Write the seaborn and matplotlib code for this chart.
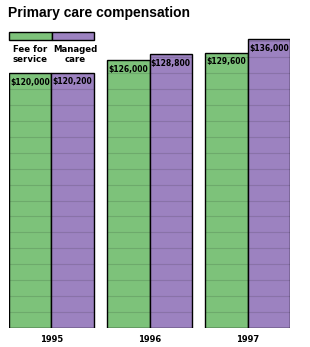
import numpy as np
import pandas as pd
import matplotlib.pyplot as plt
import seaborn as sns
from matplotlib.patches import Rectangle

years = ["1995", "1996", "1997"]
fee_for_service = [120000, 126000, 129600]
managed_care = [120200, 128800, 136000]
series_names = ["Fee for\nservice", "Managed\ncare"]
colors = ["#7dc27a", "#9c82c0"]

df = pd.DataFrame({
    "year": years * 2,
    "type": [series_names[0]] * 3 + [series_names[1]] * 3,
    "value": fee_for_service + managed_care,
})

sns.set_style("white")
plt.rcParams["font.family"] = ["DejaVu Sans"]
plt.rcParams["font.weight"] = "bold"
plt.rcParams["text.color"] = "black"
plt.rcParams["xtick.color"] = "black"

W, H = 310, 347
fig = plt.figure(figsize=(W / 100, H / 100), dpi=100)
ax = fig.add_axes([9 / W, 1 - 328 / H, (290 - 9) / W, (328 - 30.5) / H])

sns.barplot(data=df, x="year", y="value", hue="type", palette=colors,
            width=0.867, gap=0, edgecolor="black", linewidth=1,
            saturation=1, legend=False, ax=ax)

ax.set_xlim(-0.4335, 2.4335)
ax.set_ylim(0, 140000)

# faint lines running across each bar
for p in ax.patches:
    x0 = p.get_x()
    x1 = x0 + p.get_width()
    h = p.get_height()
    for yv in np.arange(7500, h, 7500):
        ax.plot([x0, x1], [yv, yv], color="black", alpha=0.12, lw=0.8, zorder=3)

# value labels inside the top of each bar
for p in ax.patches:
    h = p.get_height()
    if h <= 0:
        continue
    ax.annotate(f"${h:,.0f}", (p.get_x() + p.get_width() / 2, h),
                xytext=(0, -3.5), textcoords="offset points", color="black",
                ha="center", va="top", fontsize=5.5, fontweight="bold", zorder=4)

ax.set_xlabel("")
ax.set_ylabel("")
ax.set_yticks([])
ax.tick_params(axis="x", length=0, pad=5, labelsize=6.0, labelcolor="black")
for lbl in ax.get_xticklabels():
    lbl.set_fontweight("bold")
for s in ax.spines.values():
    s.set_visible(False)

fig.text(8 / W, 1 - 13 / H, "Primary care compensation", fontsize=10,
         fontweight="bold", va="center", ha="left", family="Liberation Sans",
         color="black")

# legend: swatches side by side, labels underneath
label_x = [30, 75.5]
for i, (name, c) in enumerate(zip(series_names, colors)):
    x0 = 9 + i * 42.5
    fig.add_artist(Rectangle((x0 / W, 1 - 40 / H), 42.5 / W, 8 / H,
                             transform=fig.transFigure, facecolor=c,
                             edgecolor="black", linewidth=1))
    fig.text(label_x[i] / W, 1 - 45 / H, name, fontsize=6.2, fontweight="bold",
             ha="center", va="top", linespacing=1.1, color="black")

fig.savefig("out.png", dpi=100)
